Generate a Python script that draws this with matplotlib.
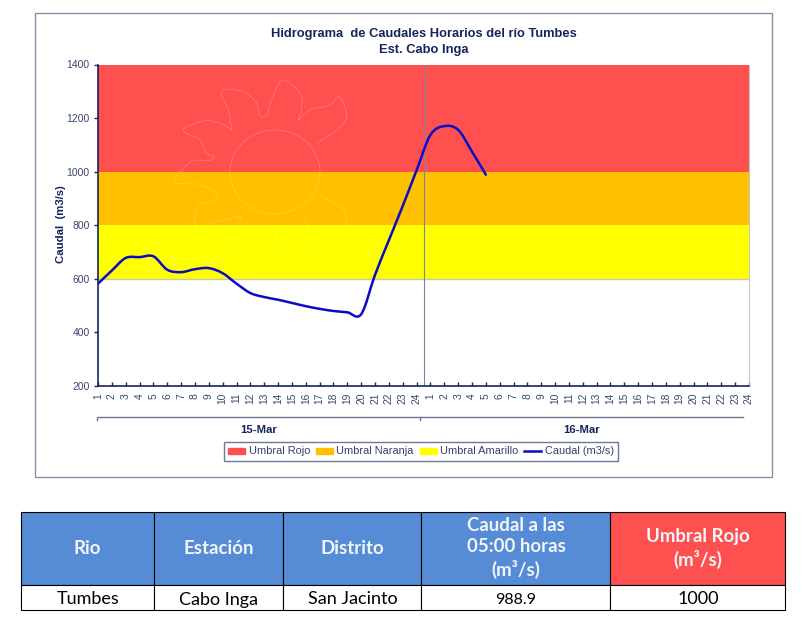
import numpy as np
import matplotlib
matplotlib.use('Agg')
import matplotlib.pyplot as plt
from matplotlib.lines import Line2D
from matplotlib.patches import Patch, PathPatch, Rectangle, Ellipse
from matplotlib.path import Path

plt.rcParams['font.family'] = ['Liberation Sans', 'DejaVu Sans']

hour_labels = [str(h) for h in range(1, 25)] * 2
days = ['15-Mar', '16-Mar']
caudal = [582, 631, 678, 681, 684, 634, 625, 636, 640, 621, 582, 547,
          532, 522, 510, 498, 488, 480, 475, 468, 615, 744, 872, 1005,
          1137, 1170, 1156, 1075, 988.9]
umbral_amarillo = 800
umbral_naranja = 1000
umbral_rojo = 1400
umbral_base = 600
y_ticks = [200, 400, 600, 800, 1000, 1200, 1400]

table_header = ['Rio', 'Estación', 'Distrito', 'Caudal a las\n05:00 horas\n(m³/s)', 'Umbral Rojo\n(m³/s)']
table_row = ['Tumbes', 'Cabo Inga', 'San Jacinto', '988.9', '1000']
table_row_size = [13, 13, 13, 11.5, 13]
col_edges = [21, 154.5, 283.5, 421.5, 610.5, 785.5]

NAVY = '#14245e'
TICK = '#3a4670'
FRAME = '#8a90a8'
BLUE = '#0a0ac8'

W, H = 803, 619


def smooth_path(points):
    # bezier through the points, same idea as a spreadsheet smoothed line
    pts = np.asarray(points, dtype=float)
    ext = np.vstack([pts[0], pts, pts[-1]])
    verts = [pts[0]]
    for i in range(1, len(ext) - 2):
        verts.append(ext[i] + (ext[i + 1] - ext[i - 1]) / 6)
        verts.append(ext[i + 1] - (ext[i + 2] - ext[i]) / 6)
        verts.append(ext[i + 1])
    codes = [Path.MOVETO] + [Path.CURVE4] * (len(verts) - 1)
    return Path(verts, codes)


fig = plt.figure(figsize=(W / 100, H / 100), dpi=100, facecolor='white')

bg = fig.add_axes([0, 0, 1, 1], zorder=0)
bg.set_xlim(0, W)
bg.set_ylim(H, 0)
bg.axis('off')
bg.add_patch(Rectangle((35.5, 13), 736.5, 464, fc='white', ec=FRAME, lw=1))

ax = fig.add_axes([98 / W, 1 - 386 / H, 651 / W, 321.5 / H], zorder=1)
ax.patch.set_alpha(0)
x = np.arange(len(hour_labels))
ax.fill_between(x, umbral_naranja, umbral_rojo, color='#ff5050', lw=0)
ax.fill_between(x, umbral_amarillo, umbral_naranja, color='#ffc000', lw=0)
ax.fill_between(x, umbral_base, umbral_amarillo, color='#ffff00', lw=0)
ax.axhline(umbral_base, color='#c8c8b0', lw=1, zorder=2)
ax.axvline(23.5, color='#7d84a0', lw=0.8, zorder=2)

pts = np.column_stack([np.arange(len(caudal)), caudal])
ax.add_patch(PathPatch(smooth_path(pts), fc='none', ec=BLUE, lw=1.8, zorder=3, capstyle='round'))

ax.set_xlim(0, len(hour_labels) - 1)
ax.set_ylim(200, 1400)
ax.set_yticks(y_ticks)
ax.set_xticks(x)
ax.set_xticklabels(hour_labels, rotation=90, fontsize=7.4, color=TICK)
ax.tick_params(axis='y', direction='out', length=3, width=1, color=NAVY, labelsize=7.5, labelcolor=TICK, pad=3)
ax.tick_params(axis='x', direction='in', length=3, width=1, color=NAVY, pad=5)
ax.spines['top'].set_visible(False)
ax.spines['right'].set_color('#c8c8c8')
ax.spines['left'].set_color(NAVY)
ax.spines['bottom'].set_color(NAVY)
ax.spines['left'].set_linewidth(1.2)
ax.spines['bottom'].set_linewidth(1.2)
for s in ['left', 'bottom', 'right']:
    ax.spines[s].set_zorder(4)

ax.set_ylabel('Caudal  (m3/s)', fontsize=8.2, fontweight='bold', color=NAVY)
ax.yaxis.set_label_coords((66 - 98) / 651, 0.505)

bg2 = fig.add_axes([0, 0, 1, 1], zorder=2)
bg2.set_xlim(0, W)
bg2.set_ylim(H, 0)
bg2.axis('off')

petals = [
    [(605, 360), (595, 300), (575, 243), (640, 245), (680, 280), (690, 318), (712, 318)],
    [(712, 318), (725, 270), (758, 210), (810, 250), (815, 290), (805, 330)],
    [(805, 330), (840, 300), (900, 285), (928, 260), (950, 320), (920, 360), (860, 400)],
    [(605, 360), (570, 340), (520, 333), (460, 360), (510, 390), (530, 430), (552, 440), (540, 452)],
    [(540, 452), (490, 452), (460, 475), (432, 518), (490, 520), (560, 548), (550, 570), (510, 585), (493, 620), (505, 670)],
    [(540, 640), (630, 620), (625, 640), (605, 680), (645, 750)],
    [(740, 650), (745, 710), (830, 745), (840, 680), (825, 625)],
    [(870, 555), (940, 600), (950, 650)],
]
for p in petals:
    p = np.array(p) / 3 + [30, 10]
    bg2.add_patch(PathPatch(smooth_path(p), fc='none', ec='white', alpha=0.22, lw=0.6))
bg2.add_patch(Ellipse((275, 172), 90, 84, fc='none', ec='white', alpha=0.22, lw=0.6))

bg2.text(424, 34, 'Hidrograma  de Caudales Horarios del río Tumbes', ha='center', va='center',
         fontsize=9.25, fontweight='bold', color=NAVY)
bg2.text(424, 50, 'Est. Cabo Inga', ha='center', va='center', fontsize=9.25, fontweight='bold', color=NAVY)
bg2.plot([97, 97, 743.5], [420, 417, 417], color='#6c7692', lw=1)
bg2.plot([420, 420], [417, 420], color='#6c7692', lw=1)
bg2.text(258.7, 430, days[0], ha='center', va='center', fontsize=8.2, fontweight='bold', color=NAVY)
bg2.text(582, 430, days[1], ha='center', va='center', fontsize=8.2, fontweight='bold', color=NAVY)

handles = [Patch(color='#ff5050', label='Umbral Rojo'),
           Patch(color='#ffc000', label='Umbral Naranja'),
           Patch(color='#ffff00', label='Umbral Amarillo'),
           Line2D([], [], color=BLUE, lw=1.8, label='Caudal (m3/s)')]
leg = bg2.legend(handles=handles, ncol=4, loc='center', bbox_to_anchor=(421 / W, 1 - 451.5 / H),
                 bbox_transform=fig.transFigure, fontsize=7.9, frameon=True, fancybox=False,
                 edgecolor='#4a5680', handlelength=1.55, handleheight=0.45, handletextpad=0.3,
                 columnspacing=0.55, borderpad=0.42, borderaxespad=0, labelcolor='#33406a')
leg.get_frame().set_linewidth(1)

# table under the chart
TOP, MID, BOT = 511.5, 585, 610
for i in range(len(table_header)):
    x0, x1 = col_edges[i], col_edges[i + 1]
    fill = '#ff5050' if i == 4 else '#558cd5'
    bg2.add_patch(Rectangle((x0, TOP), x1 - x0, MID - TOP, fc=fill, ec='black', lw=0.8))
    bg2.add_patch(Rectangle((x0, MID), x1 - x0, BOT - MID, fc='white', ec='black', lw=0.8))
    bg2.text((x0 + x1) / 2, (TOP + MID) / 2, table_header[i], ha='center', va='center', color='#f2f5fa',
             fontsize=13.4, fontweight='bold', family=['Lato', 'DejaVu Sans'], linespacing=1.3)
    bg2.text((x0 + x1) / 2, 604.5, table_row[i], ha='center', va='baseline', color='black',
             fontsize=table_row_size[i], family=['Lato', 'DejaVu Sans'])

fig.savefig('out.png', dpi=100)
